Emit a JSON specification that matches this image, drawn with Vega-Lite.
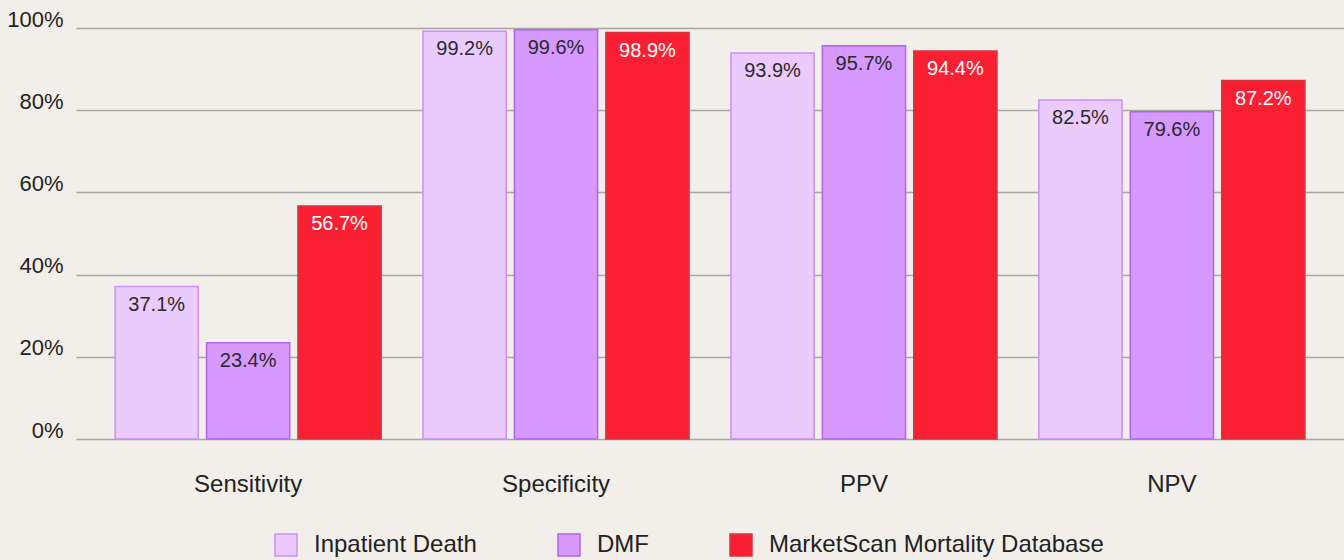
{
  "$schema": "https://vega.github.io/schema/vega-lite/v6.json",
  "width": 1268,
  "height": 411,
  "autosize": "none",
  "padding": {"left": 76, "top": 28, "right": 0, "bottom": 121},
  "background": "#f2efea",
  "data": {
    "values": [
      {"metric": "Sensitivity", "series": "Inpatient Death", "value": 37.1},
      {"metric": "Sensitivity", "series": "DMF", "value": 23.4},
      {"metric": "Sensitivity", "series": "MarketScan Mortality Database", "value": 56.7},
      {"metric": "Specificity", "series": "Inpatient Death", "value": 99.2},
      {"metric": "Specificity", "series": "DMF", "value": 99.6},
      {"metric": "Specificity", "series": "MarketScan Mortality Database", "value": 98.9},
      {"metric": "PPV", "series": "Inpatient Death", "value": 93.9},
      {"metric": "PPV", "series": "DMF", "value": 95.7},
      {"metric": "PPV", "series": "MarketScan Mortality Database", "value": 94.4},
      {"metric": "NPV", "series": "Inpatient Death", "value": 82.5},
      {"metric": "NPV", "series": "DMF", "value": 79.6},
      {"metric": "NPV", "series": "MarketScan Mortality Database", "value": 87.2}
    ]
  },
  "encoding": {
    "x": {
      "field": "metric", "type": "nominal", "sort": ["Sensitivity", "Specificity", "PPV", "NPV"],
      "scale": {"paddingInner": 0.136, "paddingOuter": 0.127},
      "axis": {"title": null, "labelAngle": 0, "domain": false, "ticks": false, "tickSize": 0, "labelPadding": 52, "labelFontSize": 24, "labelBaseline": "alphabetic", "labelColor": "#222222", "labelFont": "Liberation Sans"}
    },
    "xOffset": {
      "field": "series", "type": "nominal", "sort": ["Inpatient Death", "DMF", "MarketScan Mortality Database"],
      "scale": {"paddingInner": 0.09, "paddingOuter": 0}
    },
    "y": {
      "field": "value", "type": "quantitative",
      "scale": {"domain": [0, 100], "nice": false},
      "axis": {"title": null, "values": [0, 20, 40, 60, 80, 100], "labelExpr": "datum.value + '%'", "domain": false, "ticks": false, "tickSize": 0, "labelPadding": 13, "labelFontSize": 22, "labelBaseline": "alphabetic", "labelOffset": -2, "labelColor": "#222222", "labelFont": "Liberation Sans", "gridColor": "#a9a7a4", "gridWidth": 1.3, "gridOpacity": 1}
    }
  },
  "layer": [
    {
      "mark": {"type": "bar", "strokeWidth": 1.5},
      "encoding": {
        "color": {
          "field": "series", "type": "nominal", "sort": ["Inpatient Death", "DMF", "MarketScan Mortality Database"],
          "scale": {"range": ["#ebcbfd", "#d699ff", "#fb1f33"]},
          "legend": {
            "title": null,
            "encode": {"symbols": {"update": {"fill": {"scale": "color", "field": "value"}, "stroke": {"scale": "stroke", "field": "value"}, "strokeWidth": {"value": 1.5}, "opacity": {"value": 1}}}}
          }
        },
        "stroke": {
          "field": "series", "type": "nominal", "sort": ["Inpatient Death", "DMF", "MarketScan Mortality Database"],
          "scale": {"range": ["#cc8ef7", "#b066ee", "#d8343e"]},
          "legend": null
        }
      }
    },
    {
      "transform": [{"calculate": "format(datum.value, '.1f') + '%'", "as": "label"}],
      "mark": {"type": "text", "baseline": "alphabetic", "dy": 24, "fontSize": 20, "font": "Liberation Sans"},
      "encoding": {
        "text": {"field": "label", "type": "nominal"},
        "color": {
          "condition": {"test": "datum.series === 'MarketScan Mortality Database'", "value": "#ffffff"},
          "value": "#2a2a2a"
        }
      }
    }
  ],
  "config": {
    "view": {"stroke": null},
    "legend": {
      "orient": "none", "legendX": 198, "legendY": 505, "direction": "horizontal",
      "symbolType": "square", "symbolSize": 484, "symbolStrokeWidth": 1.5, "symbolOpacity": 1,
      "labelFontSize": 24, "labelFont": "Liberation Sans", "labelColor": "#222222",
      "labelOffset": 16, "columnPadding": 78, "padding": 0, "labelLimit": 500
    }
  }
}
